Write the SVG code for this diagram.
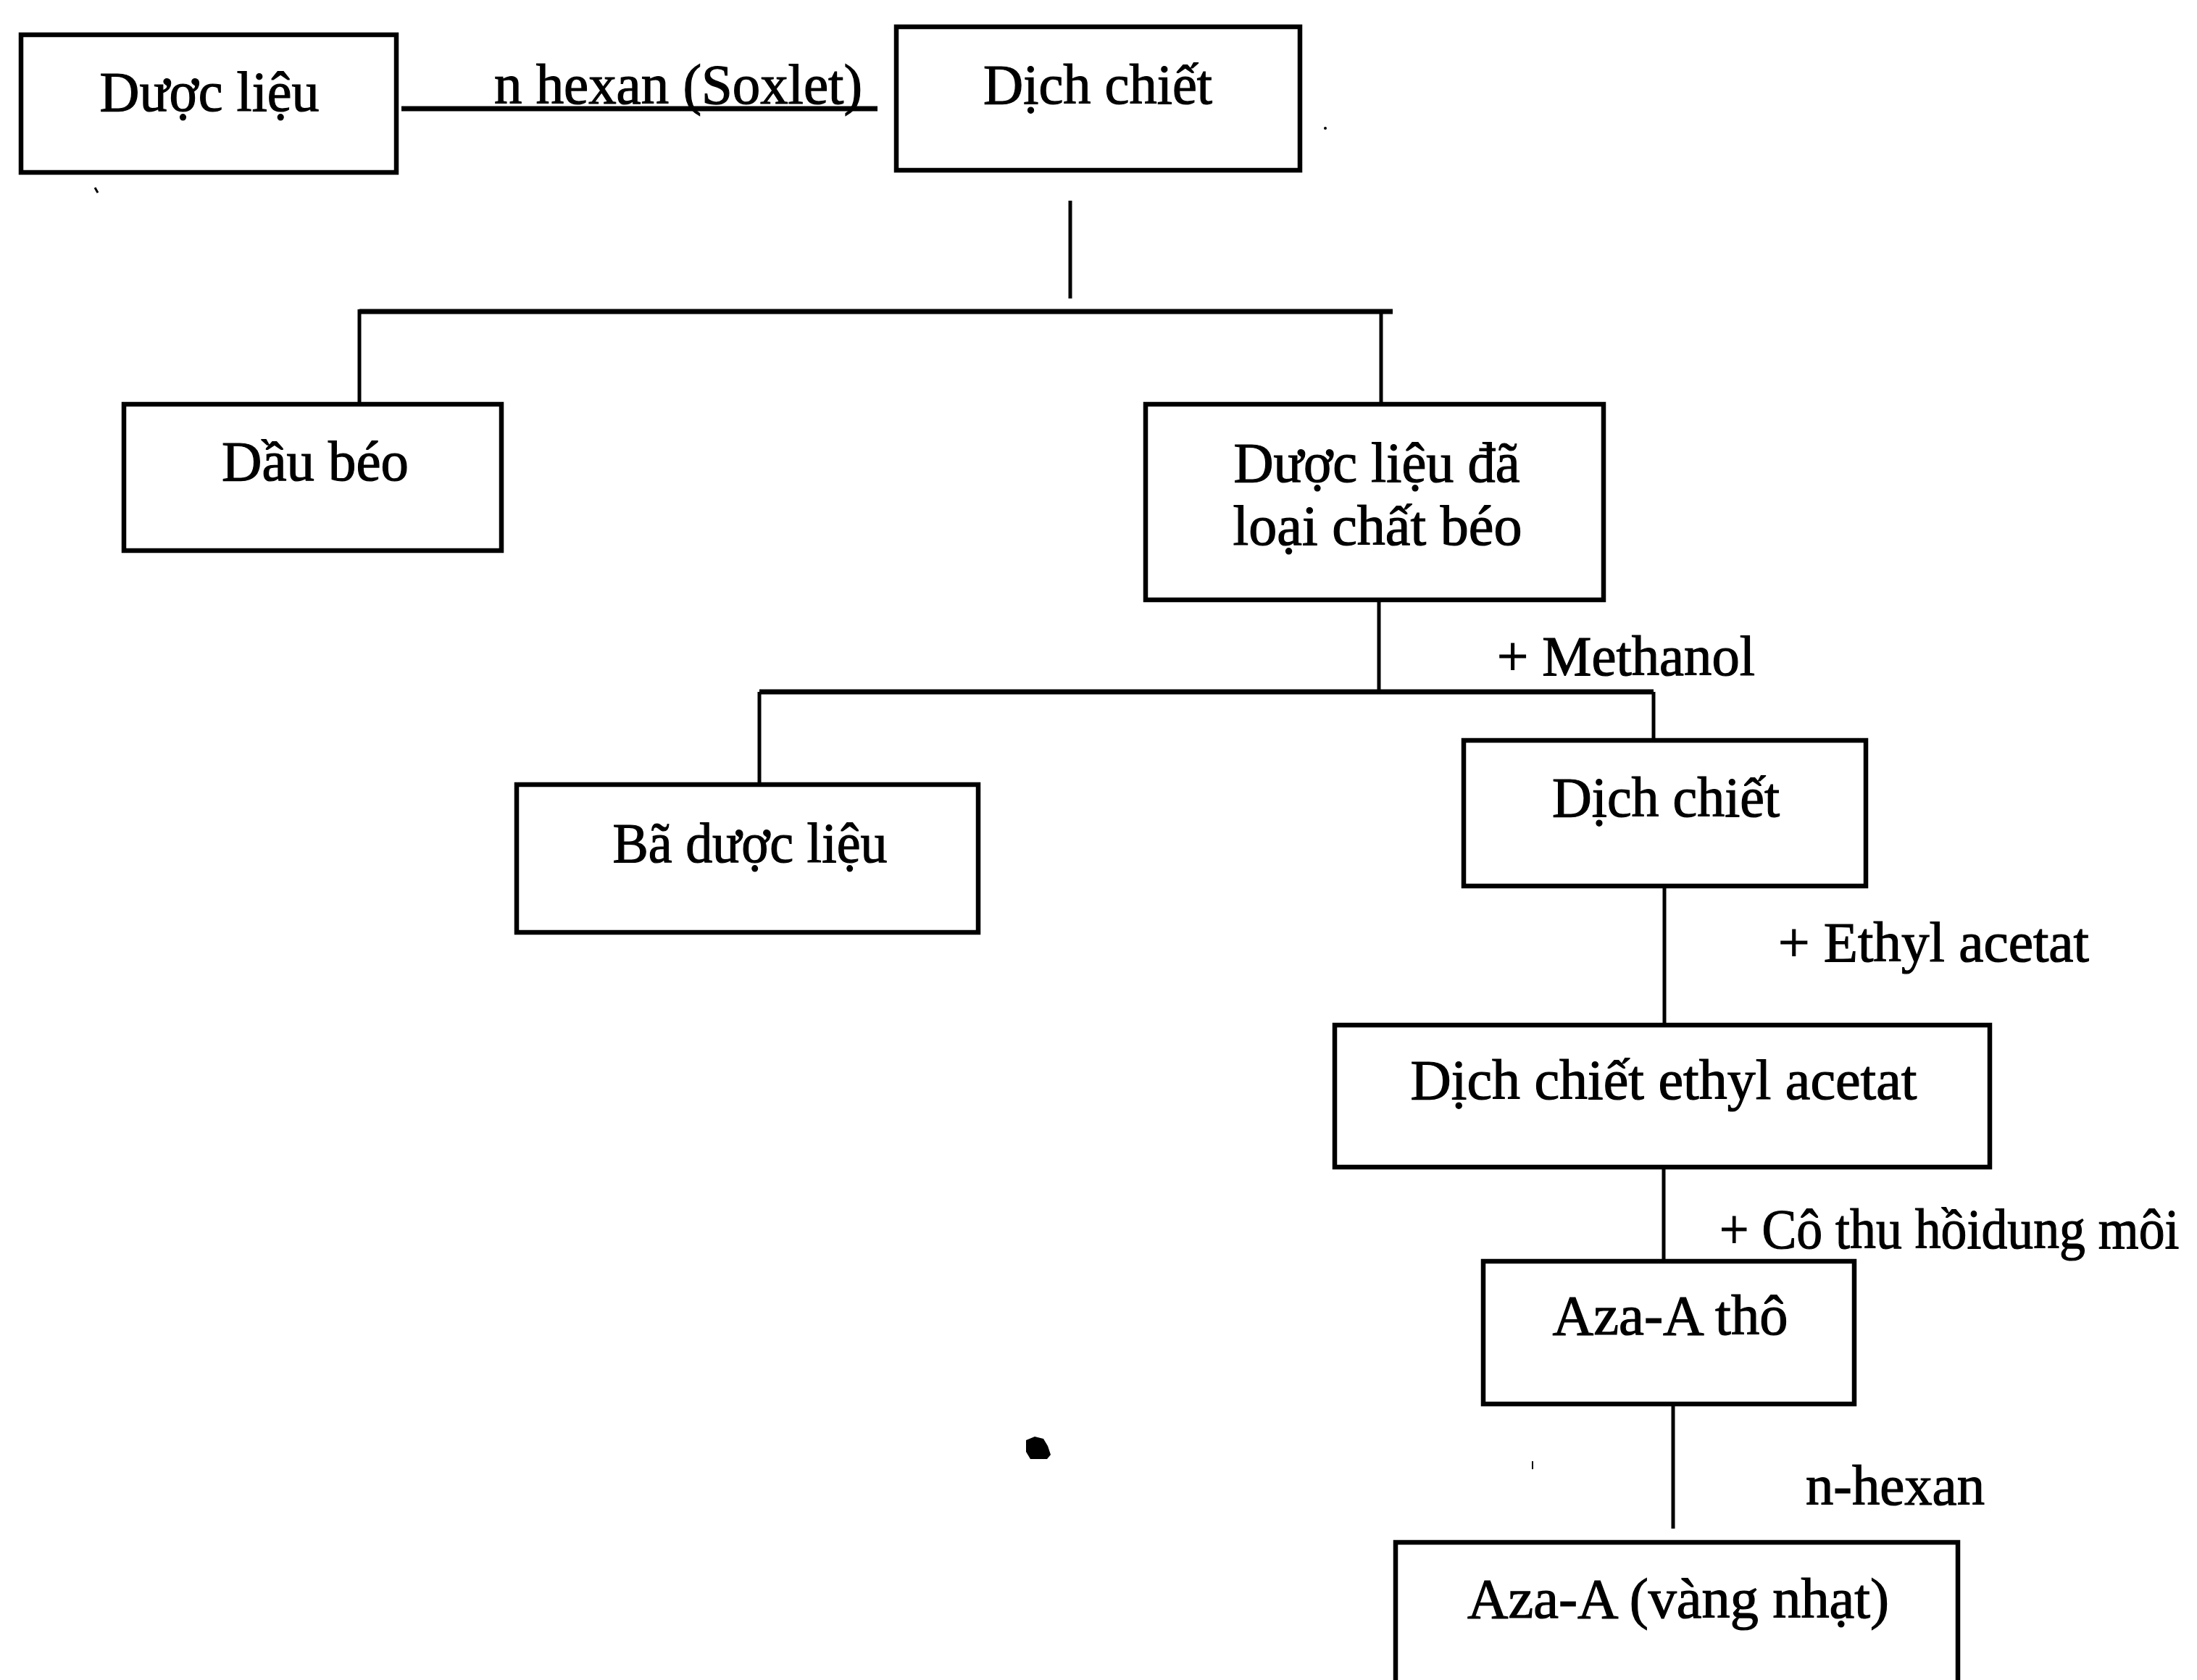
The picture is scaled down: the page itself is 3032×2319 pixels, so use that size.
<svg xmlns="http://www.w3.org/2000/svg" width="3032" height="2319" viewBox="0 0 3032 2319">
<style>
.box{fill:#fff;stroke:#000;stroke-width:6.5}
.t{font-family:"Liberation Serif","Times New Roman",serif;font-size:78px;fill:#000;stroke:#000;stroke-width:1.2}
.c{text-anchor:middle}
.h{stroke:#000;stroke-width:7;fill:none}
.v{stroke:#000;stroke-width:5;fill:none}
</style>
<rect width="3032" height="2319" fill="#fff"/>
<g id="connectors">
<line class="h" x1="554" y1="150" x2="1211" y2="150"/>
<line class="v" x1="1477" y1="277" x2="1477" y2="412"/>
<line class="h" x1="496" y1="430" x2="1922" y2="430"/>
<line class="v" x1="496" y1="427" x2="496" y2="558"/>
<line class="v" x1="1906" y1="430" x2="1906" y2="558"/>
<line class="v" x1="1903" y1="828" x2="1903" y2="955"/>
<line class="h" x1="1048" y1="955" x2="2282" y2="955"/>
<line class="v" x1="1048" y1="955" x2="1048" y2="1083"/>
<line class="v" x1="2282" y1="955" x2="2282" y2="1022"/>
<line class="v" x1="2297" y1="1223" x2="2297" y2="1415"/>
<line class="v" x1="2296" y1="1611" x2="2296" y2="1741"/>
<line class="v" x1="2309" y1="1938" x2="2309" y2="2110"/>
<text class="t" x="682" y="143" textLength="508" lengthAdjust="spacingAndGlyphs">n hexan (Soxlet)</text>
<text class="t" x="2066" y="932" textLength="356" lengthAdjust="spacingAndGlyphs">+ Methanol</text>
<text class="t" x="2454" y="1327" textLength="429" lengthAdjust="spacingAndGlyphs">+ Ethyl acetat</text>
<text class="t" transform="translate(2373,1723) scale(0.92,1)" x="0" y="0">+ Cô thu hồidung môi</text>
<text class="t" x="2492" y="2077" textLength="247" lengthAdjust="spacingAndGlyphs">n-hexan</text>
</g>
<g id="n1">
<rect class="box" x="29" y="48" width="518" height="190"/>
<text class="t c" x="289" y="153" textLength="303" lengthAdjust="spacingAndGlyphs">Dược liệu</text>
</g>
<g id="n2">
<rect class="box" x="1237" y="37" width="557" height="198"/>
<text class="t c" x="1515" y="143" textLength="316" lengthAdjust="spacingAndGlyphs">Dịch chiết</text>
</g>
<g id="n3">
<rect class="box" x="171" y="558" width="521" height="202"/>
<text class="t c" x="435" y="663" textLength="258" lengthAdjust="spacingAndGlyphs">Dầu béo</text>
</g>
<g id="n4">
<rect class="box" x="1581" y="558" width="632" height="270"/>
<text class="t c" x="1900" y="665" textLength="395" lengthAdjust="spacingAndGlyphs">Dược liệu đã</text>
<text class="t c" x="1901" y="752" textLength="399" lengthAdjust="spacingAndGlyphs">loại chất béo</text>
</g>
<g id="n5">
<rect class="box" x="713" y="1083" width="637" height="204"/>
<text class="t c" x="1035" y="1190" textLength="379" lengthAdjust="spacingAndGlyphs">Bã dược liệu</text>
</g>
<g id="n6">
<rect class="box" x="2020" y="1022" width="555" height="201"/>
<text class="t c" x="2299" y="1127" textLength="314" lengthAdjust="spacingAndGlyphs">Dịch chiết</text>
</g>
<g id="n7">
<rect class="box" x="1842" y="1415" width="904" height="196"/>
<text class="t c" x="2296" y="1517" textLength="699" lengthAdjust="spacingAndGlyphs">Dịch chiết ethyl acetat</text>
</g>
<g id="n8">
<rect class="box" x="2047" y="1741" width="512" height="197"/>
<text class="t c" x="2305" y="1842" textLength="325" lengthAdjust="spacingAndGlyphs">Aza-A thô</text>
</g>
<g id="n9">
<rect class="box" x="1926" y="2129" width="776" height="220"/>
<text class="t c" x="2316" y="2233" textLength="582" lengthAdjust="spacingAndGlyphs">Aza-A (vàng nhạt)</text>
</g>
<g id="marks">
<path d="M1416,1988 L1428,1983 L1440,1986 L1446,1996 L1450,2008 L1445,2014 L1422,2014 L1416,2004 Z" fill="#000"/>
<line x1="2115" y1="2017" x2="2115" y2="2028" stroke="#000" stroke-width="2"/>
<circle cx="1829" cy="177" r="2" fill="#000"/>
<line x1="131" y1="259" x2="135" y2="266" stroke="#000" stroke-width="3"/>
</g>
</svg>
